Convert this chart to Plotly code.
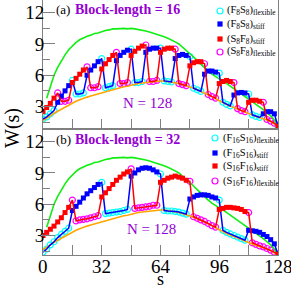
import plotly.graph_objects as go

# ---------------- data (s = monomer index, every 2nd point) ----------------
s = list(range(0, 129, 2))

green_stiff = [None, 3.8, 5.0, 6.0, 6.75, 7.4, 7.95, 8.45, 8.85, 9.15, 9.4, 9.6, 9.75, 9.85, 10.0, 10.05,
               10.2, 10.3, 10.35, 10.45, 10.45, 10.5, 10.5, 10.45, 10.5, 10.45, 10.4, 10.3, 10.25, 10.15, 10.05, 9.95,
               9.85, 9.7, 9.55, 9.4, 9.2, 9.0, 8.7, 8.4, 8.05, 7.75, 7.4, 7.05, 6.7, 6.4, 6.1, 5.85,
               5.65, 5.45, 5.2, 4.95, 4.75, 4.5, 4.25, 4.0, 3.75, 3.45, 3.2, 2.95, 2.7, 2.4, 2.1, 1.7,
               1.1]
orange_flex = [1.65, 1.85, 2.1, 2.35, 2.55, 2.75, 2.95, 3.15, 3.35, 3.5, 3.65, 3.8, 3.9, 4.0, 4.1, 4.25,
               4.35, 4.45, 4.55, 4.65, 4.75, 4.85, 4.9, 4.95, 5.05, 5.1, 5.2, 5.25, 5.3, 5.35, 5.4, 5.45,
               5.45, 5.45, 5.4, 5.35, 5.3, 5.2, 5.1, 5.0, 4.9, 4.75, 4.6, 4.45, 4.3, 4.1, 3.95, 3.75,
               3.55, 3.4, 3.2, 3.05, 2.9, 2.75, 2.6, 2.45, 2.35, 2.2, 2.05, 1.95, 1.85, 1.7, 1.55, 1.35,
               1.1]

# panel (a): block length 16 -> F8S8 / S8F8
a_F8S8 = [1.8, 2.0, 2.3, 2.6, 3.4, 4.0, 4.5, 5.0,
          5.5, 4.2, 4.2, 4.3, 6.0, 6.5, 6.9, 7.3,
          7.6, 4.8, 4.9, 5.0, 7.4, 7.9, 8.2, 8.4,
          8.5, 5.3, 5.3, 5.4, 8.2, 8.5, 8.6, 8.6,
          8.6, 5.45, 5.4, 5.35, 7.6, 7.9, 8.0, 7.9,
          7.8, 4.75, 4.6, 4.45, 6.1, 6.4, 6.4, 6.3,
          6.2, 3.4, 3.2, 3.05, 4.1, 4.3, 4.35, 4.3,
          4.2, 2.2, 2.05, 1.95, 2.3, 2.5, 2.5, 2.3,
          1.1]
a_S8F8 = [2.5, 2.9, 3.3, 3.8, 4.3, 3.5, 3.5, 3.6,
          5.3, 5.7, 6.1, 6.5, 6.8, 4.8, 4.8, 4.9,
          6.6, 7.1, 7.5, 7.9, 8.2, 5.2, 5.2, 5.3,
          7.9, 8.3, 8.6, 8.8, 8.9, 5.4, 5.4, 5.5,
          8.2, 8.5, 8.6, 8.6, 8.5, 5.2, 5.1, 5.0,
          6.9, 7.2, 7.3, 7.3, 7.1, 4.15, 3.95, 3.8,
          5.2, 5.4, 5.5, 5.4, 5.3, 2.8, 2.6, 2.5,
          3.4, 3.6, 3.6, 3.5, 3.4, 1.75, 1.6, 1.4,
          1.1]

# panel (b): block length 32 -> F16S16 / S16F16
b_F16S16 = [1.4, 1.7, 2.1, 2.4, 2.8, 3.1, 3.4, 3.7,
            5.4, 5.8, 6.2, 6.6, 7.0, 7.3, 7.6, 7.9,
            8.1, 5.1, 5.15, 5.2, 5.25, 5.3, 5.4, 5.5,
            8.7, 9.0, 9.3, 9.45, 9.5, 9.45, 9.3, 9.1,
            8.9, 5.4, 5.35, 5.35, 5.3, 5.25, 5.15, 5.05,
            6.5, 6.7, 6.85, 6.9, 6.9, 6.85, 6.7, 6.6,
            6.4, 3.5, 3.3, 3.15, 3.0, 2.85, 2.7, 2.55,
            3.5, 3.45, 3.4, 3.3, 3.1, 2.9, 2.6, 2.2,
            1.2]
b_S16F16 = [3.0, 3.3, 3.6, 3.9, 4.3, 4.7, 5.2, 5.7,
            6.4, 4.4, 4.5, 4.55, 4.6, 4.7, 4.8, 4.9,
            6.7, 7.1, 7.5, 7.9, 8.3, 8.6, 8.9, 9.1,
            9.4, 5.6, 5.65, 5.7, 5.75, 5.8, 5.9, 5.9,
            8.1, 8.3, 8.5, 8.6, 8.7, 8.6, 8.5, 8.3,
            8.2, 4.8, 4.65, 4.5, 4.35, 4.15, 3.95, 3.8,
            5.5, 5.6, 5.7, 5.7, 5.65, 5.6, 5.5, 5.3,
            5.2, 2.3, 2.15, 2.0, 1.9, 1.75, 1.6, 1.4,
            1.2]

half_block_a = 8
half_block_b = 16
x_ticks = [0, 32, 64, 96, 128]

# ---------------- styling ----------------
W, H = 291, 285
ML, MR, MT, MB = 43, 13, 0, 30
PW, PH = W - ML - MR, H - MT - MB
split_px = 129
SERIF = "Liberation Serif"
PURPLE = "#9400d3"
AX = "#808080"
GREEN, ORANGE = "#11ee11", "#ffa500"
BLUE, RED, CYAN, MAG = "#0000ff", "#ff0000", "#00ffff", "#ff00ff"

def px2paper(x, y):
    return (x - ML) / PW, 1 - (y - MT) / PH

fig = go.Figure()

def add_panel(valsF, valsS, half, xa, ya):
    def split(vals, stiff_parity):
        st_x, st_y, fl_x, fl_y = [], [], [], []
        for si, v in zip(s, vals):
            if ((si // half) % 2) == stiff_parity:
                st_x.append(si); st_y.append(v)
            else:
                fl_x.append(si); fl_y.append(v)
        return st_x, st_y, fl_x, fl_y
    bsx, bsy, bfx, bfy = split(valsF, 1)
    rsx, rsy, rfx, rfy = split(valsS, 0)
    common = dict(xaxis=xa, yaxis=ya, showlegend=False, hoverinfo="skip")
    fig.add_trace(go.Scatter(x=bfx, y=bfy, mode="markers",
                             marker=dict(symbol="circle-open", size=6, color=CYAN, line=dict(width=1.2)), **common))
    fig.add_trace(go.Scatter(x=rfx, y=rfy, mode="markers",
                             marker=dict(symbol="circle-open", size=6, color=MAG, line=dict(width=1.2)), **common))
    fig.add_trace(go.Scatter(x=s, y=orange_flex, mode="lines", line=dict(color=ORANGE, width=1.6), **common))
    fig.add_trace(go.Scatter(x=s, y=green_stiff, mode="lines", line=dict(color=GREEN, width=1.6), **common))
    fig.add_trace(go.Scatter(x=s, y=valsF, mode="lines", line=dict(color=BLUE, width=1.5), **common))
    fig.add_trace(go.Scatter(x=bsx, y=bsy, mode="markers",
                             marker=dict(symbol="square", size=5, color=BLUE), **common))
    fig.add_trace(go.Scatter(x=s, y=valsS, mode="lines", line=dict(color=RED, width=1.5), **common))
    fig.add_trace(go.Scatter(x=rsx, y=rsy, mode="markers",
                             marker=dict(symbol="square", size=5, color=RED), **common))

add_panel(a_F8S8, a_S8F8, half_block_a, "x", "y")
add_panel(b_F16S16, b_S16F16, half_block_b, "x2", "y2")

dom_split = 1 - split_px / PH
ppu = 10.42
top_max = 13.22
ya_min = top_max - split_px / ppu
yb_min = top_max - (PH - split_px) / ppu

tickfont = dict(family=SERIF, size=19, color="black")
yax = dict(dtick=3, tick0=0, ticks="inside", ticklen=12, tickcolor=AX, tickwidth=1,
           minor=dict(dtick=1.5, ticks="inside", ticklen=7, tickcolor=AX),
           showline=True, linecolor=AX, linewidth=1, mirror=True, showgrid=False, zeroline=False,
           tickfont=tickfont, automargin=False, ticklabelstandoff=-6)
xax = dict(range=[0, 128], tickmode="array", tickvals=x_ticks, showticklabels=False,
           ticks="inside", ticklen=10, tickcolor=AX,
           minor=dict(dtick=16, tick0=0, ticks="inside", ticklen=10, tickcolor=AX),
           showline=True, linecolor=AX, linewidth=1, showgrid=False, zeroline=False,
           automargin=False)

fig.update_layout(
    width=W, height=H, margin=dict(l=ML, r=MR, t=MT, b=MB),
    paper_bgcolor="white", plot_bgcolor="white", showlegend=False,
    xaxis=dict(xax, anchor="y", mirror=False),
    yaxis=dict(yax, range=[ya_min, top_max], domain=[dom_split, 1], anchor="x"),
    xaxis2=dict(xax, anchor="y2", mirror=True),
    yaxis2=dict(yax, range=[yb_min, top_max], domain=[0, dom_split], anchor="x2"),
)

ann = []
def text(x, y, t, size, color="black", xanchor="left", angle=0, yanchor="middle"):
    px, py = px2paper(x, y)
    ann.append(dict(x=px, y=py, xref="paper", yref="paper", text=t, showarrow=False,
                    xanchor=xanchor, yanchor=yanchor, textangle=angle,
                    font=dict(family=SERIF, size=size, color=color)))

# x tick labels of the bottom panel, placed on the data scale of x2
for v in x_ticks:
    ann.append(dict(x=v, y=1 - (266 - MT) / PH, xref="x2", yref="paper", text=str(v), showarrow=False,
                    xanchor="center", yanchor="middle", font=tickfont))

text(54, 10, "(a)", 13)
text(73, 10, "<b>Block-length = 16</b>", 14, PURPLE)
text(147, 103, "N = 128", 15, PURPLE, xanchor="center")
text(54, 139, "(b)", 13)
text(73, 139, "<b>Block-length = 32</b>", 14, PURPLE)
text(151, 229, "N = 128", 15, PURPLE, xanchor="center")
text(12, 128, "W(s)", 20, xanchor="center", angle=-90)
text(160, 279, "s", 18, xanchor="center")

shapes = []
def legend_row(mx, y, tx, kind, color, label):
    px, py = px2paper(mx, y)
    if kind == "circle":
        dx, dy = 3 / PW, 3 / PH
        shapes.append(dict(type="circle", xref="paper", yref="paper", x0=px - dx, x1=px + dx,
                           y0=py - dy, y1=py + dy, line=dict(color=color, width=1.2), fillcolor="rgba(0,0,0,0)"))
    else:
        dx, dy = 2.6 / PW, 2.6 / PH
        shapes.append(dict(type="rect", xref="paper", yref="paper", x0=px - dx, x1=px + dx,
                           y0=py - dy, y1=py + dy, line=dict(width=0), fillcolor=color))
    text(tx, y, label, 10.5)

legend_row(220, 11, 225, "circle", CYAN, "(F<sub>8</sub>S<sub>8</sub>)<sub>flexible</sub>")
legend_row(220, 24, 225, "square", BLUE, "(F<sub>8</sub>S<sub>8</sub>)<sub>stiff</sub>")
legend_row(220, 39, 225, "square", RED, "(S<sub>8</sub>F<sub>8</sub>)<sub>stiff</sub>")
legend_row(220, 52, 225, "circle", MAG, "(S<sub>8</sub>F<sub>8</sub>)<sub>flexible</sub>")
legend_row(215, 138, 221, "circle", CYAN, "(F<sub>16</sub>S<sub>16</sub>)<sub>flexible</sub>")
legend_row(215, 153, 221, "square", BLUE, "(F<sub>16</sub>S<sub>16</sub>)<sub>stiff</sub>")
legend_row(215, 166, 221, "square", RED, "(S<sub>16</sub>F<sub>16</sub>)<sub>stiff</sub>")
legend_row(215, 181, 221, "circle", MAG, "(S<sub>16</sub>F<sub>16</sub>)<sub>flexible</sub>")

fig.update_layout(annotations=ann, shapes=shapes)
fig.write_html("out.html", config={"displayModeBar": False},
               post_script="document.body.style.margin='0px';document.body.style.overflow='hidden';")
